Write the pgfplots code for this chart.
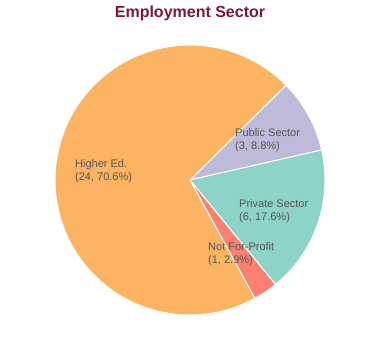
\documentclass[border=0pt]{standalone}
\usepackage{pgfplots}
\pgfplotsset{compat=1.18}
\usepackage{fontspec}
\setmainfont{Liberation Sans}
\definecolor{cHigher}{HTML}{FDB462}
\definecolor{cPublic}{HTML}{BEBADA}
\definecolor{cPrivate}{HTML}{8DD3C7}
\definecolor{cNFP}{HTML}{FB8072}
\definecolor{titlec}{HTML}{7A1A3A}
\definecolor{labc}{HTML}{555555}
% counts: Public 3, Private 6, Not For-Profit 1, Higher Ed. 24 (total 34)
\pgfmathsetmacro{\total}{34}
\pgfmathsetmacro{\aA}{44.6}
\pgfmathsetmacro{\aB}{\aA-360*3/\total}
\pgfmathsetmacro{\aC}{\aB-360*6/\total}
\pgfmathsetmacro{\aD}{\aC-360*1/\total}
\pgfmathsetmacro{\aE}{\aD-360*24/\total}
\begin{document}
\begin{tikzpicture}
\begin{axis}[
  scale only axis, width=380pt, height=360pt,
  xmin=-190, xmax=190, ymin=-180, ymax=180,
  hide axis, clip=false,
]
\path (axis cs:-190,-180) rectangle (axis cs:190,180);
\addplot[fill=cPublic, draw=white, line width=1pt, domain=\aB:\aA, samples=40]
  ({135*cos(x)},{135*sin(x)}) -- (axis cs:0,0) -- cycle;
\addplot[fill=cPrivate, draw=white, line width=1pt, domain=\aC:\aB, samples=60]
  ({135*cos(x)},{135*sin(x)}) -- (axis cs:0,0) -- cycle;
\addplot[fill=cNFP, draw=white, line width=1pt, domain=\aD:\aC, samples=20]
  ({135*cos(x)},{135*sin(x)}) -- (axis cs:0,0) -- cycle;
\addplot[fill=cHigher, draw=white, line width=1pt, domain=\aE:\aD, samples=150]
  ({135*cos(x)},{135*sin(x)}) -- (axis cs:0,0) -- cycle;
\node[font=\fontsize{16}{19}\selectfont\bfseries, text=titlec] at (axis cs:0,167) {Employment Sector};
\tikzset{lab/.style={font=\fontsize{11}{12.5}\selectfont, text=labc, align=left, anchor=west, inner sep=0pt}}
\node[lab] at (axis cs:-115,9) {Higher Ed.\\(24, 70.6\%)};
\node[lab] at (axis cs:45,40) {Public Sector\\(3, 8.8\%)};
\node[lab] at (axis cs:49,-31) {Private Sector\\(6, 17.6\%)};
\node[lab] at (axis cs:18,-74) {Not For-Profit\\(1, 2.9\%)};
\end{axis}
\end{tikzpicture}
\end{document}
